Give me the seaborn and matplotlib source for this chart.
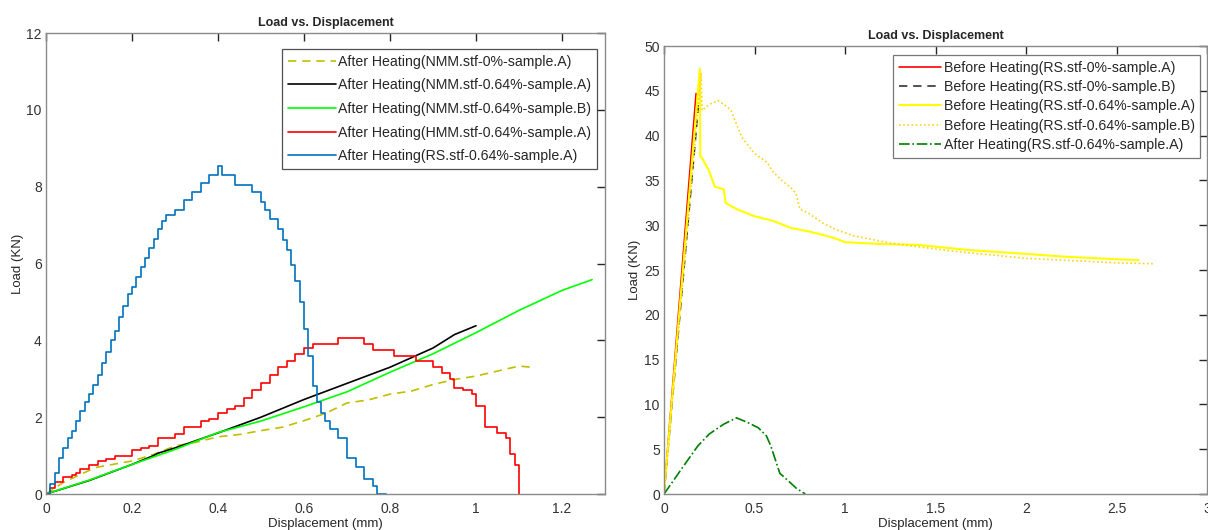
import numpy as np
import pandas as pd
import matplotlib
matplotlib.use('Agg')
import matplotlib.pyplot as plt
import seaborn as sns

# ---- left panel data (after heating) ----
nmm0_a_x = [0, 0.04, 0.115, 0.2, 0.25, 0.3, 0.35, 0.4, 0.45, 0.5, 0.55, 0.6, 0.65,
            0.7, 0.75, 0.8, 0.85, 0.9, 0.95, 1.0, 1.05, 1.1, 1.13]
nmm0_a_y = [0, 0.3, 0.69, 0.86, 1.03, 1.25, 1.35, 1.49, 1.55, 1.65, 1.74, 1.91, 2.1,
            2.37, 2.45, 2.6, 2.68, 2.85, 2.98, 3.07, 3.2, 3.33, 3.3]

nmm64_a_x = [0, 0.1, 0.2, 0.25, 0.26, 0.3, 0.4, 0.5, 0.6, 0.7, 0.8, 0.9, 0.95, 1.0]
nmm64_a_y = [0, 0.35, 0.77, 1.0, 1.06, 1.2, 1.59, 2.0, 2.46, 2.88, 3.3, 3.8, 4.15, 4.38]

nmm64_b_x = [0, 0.1, 0.2, 0.3, 0.4, 0.5, 0.6, 0.7, 0.8, 0.9, 1.0, 1.1, 1.2, 1.27]
nmm64_b_y = [0, 0.36, 0.77, 1.16, 1.6, 1.9, 2.27, 2.66, 3.17, 3.65, 4.2, 4.78, 5.3, 5.58]

hmm64_a_x = [0, 0.01, 0.02, 0.03, 0.04, 0.06, 0.07, 0.08, 0.1, 0.12, 0.14, 0.16, 0.18,
             0.2, 0.22, 0.24, 0.26, 0.28, 0.3, 0.32, 0.34, 0.36, 0.38, 0.4, 0.42,
             0.44, 0.46, 0.48, 0.5, 0.52, 0.54, 0.56, 0.58, 0.6, 0.62, 0.68, 0.74,
             0.76, 0.81, 0.86, 0.9, 0.92, 0.94, 0.95, 0.97, 0.99, 1.0, 1.02, 1.05,
             1.07, 1.08, 1.09, 1.1]
hmm64_a_y = [0, 0.15, 0.3, 0.3, 0.45, 0.5, 0.55, 0.65, 0.75, 0.85, 0.9, 1.0, 1.0,
             1.15, 1.2, 1.25, 1.45, 1.45, 1.55, 1.75, 1.75, 1.9, 1.95, 2.1, 2.2,
             2.3, 2.5, 2.7, 2.9, 3.1, 3.3, 3.45, 3.65, 3.8, 3.9, 4.05, 3.9,
             3.75, 3.6, 3.45, 3.3, 3.15, 3.0, 2.75, 2.7, 2.6, 2.3, 1.75, 1.6,
             1.45, 1.05, 0.75, 0.0]

rs64_a_x = [0, 0.01, 0.02, 0.03, 0.04, 0.05, 0.06, 0.07, 0.08, 0.09, 0.1, 0.11, 0.12,
            0.13, 0.14, 0.15, 0.16, 0.17, 0.18, 0.19, 0.2, 0.21, 0.22, 0.23, 0.24,
            0.25, 0.26, 0.27, 0.28, 0.3, 0.32, 0.34, 0.36, 0.38, 0.4, 0.41, 0.44,
            0.48, 0.5, 0.51, 0.52, 0.54, 0.55, 0.56, 0.57, 0.58, 0.59, 0.6, 0.61,
            0.62, 0.63, 0.64, 0.65, 0.66, 0.68, 0.7, 0.72, 0.74, 0.76, 0.77, 0.79]
rs64_a_y = [0, 0.25, 0.55, 0.95, 1.2, 1.45, 1.65, 1.9, 2.15, 2.4, 2.6, 2.85, 3.1,
            3.4, 3.7, 4.0, 4.25, 4.6, 4.9, 5.2, 5.4, 5.65, 5.9, 6.15, 6.4,
            6.65, 6.9, 7.1, 7.25, 7.4, 7.65, 7.85, 8.1, 8.3, 8.55, 8.3, 8.05,
            7.85, 7.6, 7.4, 7.15, 6.9, 6.6, 6.35, 5.95, 5.55, 5.0, 4.3, 3.6,
            2.8, 2.4, 2.1, 1.9, 1.7, 1.45, 0.95, 0.7, 0.4, 0.2, 0.0, 0.0]

# ---- right panel data ----
b_rs0_a_x = [0, 0.177]
b_rs0_a_y = [0, 44.7]

b_rs0_b_x = [0, 0.19]
b_rs0_b_y = [0, 43.4]

b_rs64_a_x = [0, 0.198, 0.2, 0.21, 0.25, 0.28, 0.33, 0.34, 0.4, 0.5, 0.6, 0.7, 0.8,
              0.9, 0.95, 1.0, 1.2, 1.4, 1.5, 1.7, 2.0, 2.2, 2.5, 2.62]
b_rs64_a_y = [0, 47.5, 37.7, 37.5, 36.0, 34.3, 34.0, 32.5, 31.8, 31.0, 30.5, 29.7, 29.3,
              28.8, 28.5, 28.1, 27.9, 27.8, 27.6, 27.2, 26.8, 26.5, 26.2, 26.1]

b_rs64_b_x = [0, 0.205, 0.21, 0.25, 0.3, 0.35, 0.37, 0.43, 0.5, 0.57, 0.6, 0.65, 0.7,
              0.73, 0.75, 0.8, 0.88, 0.95, 1.05, 1.15, 1.25, 1.4, 1.6, 1.8, 2.0,
              2.3, 2.5, 2.7]
b_rs64_b_y = [0, 47.0, 42.8, 43.5, 43.9, 43.2, 42.8, 39.8, 38.0, 37.0, 36.0, 35.0, 34.2,
              33.5, 31.8, 31.3, 30.2, 29.5, 28.8, 28.4, 28.0, 27.6, 27.1, 26.7, 26.3,
              26.0, 25.8, 25.7]

a_rs64_a_x = [0, 0.1, 0.186, 0.25, 0.33, 0.4, 0.46, 0.52, 0.565, 0.59, 0.62, 0.64,
              0.69, 0.73, 0.78]
a_rs64_a_y = [0, 2.9, 5.35, 6.7, 7.8, 8.5, 8.0, 7.4, 6.5, 5.35, 3.5, 2.3,
              1.4, 0.65, 0.0]

sns.set_theme(style='white')
plt.rcParams['font.family'] = ['Liberation Sans', 'DejaVu Sans']
plt.rcParams['axes.edgecolor'] = '#8a8a8a'
plt.rcParams['axes.linewidth'] = 1.0

fig = plt.figure(figsize=(12.08, 5.3), dpi=100)
ax1 = fig.add_axes([0.0381, 0.0679, 0.4627, 0.8698])
ax2 = fig.add_axes([0.5497, 0.0679, 0.4497, 0.8453])


def draw(ax, x, y, label, color, ls='-', lw=1.2, step=False):
    kw = dict(drawstyle='steps-post') if step else {}
    sns.lineplot(x=x, y=y, ax=ax, label=label, color=color, linestyle=ls,
                 linewidth=lw, sort=False, estimator=None, **kw)


draw(ax1, nmm0_a_x, nmm0_a_y, 'After Heating(NMM.stf-0%-sample.A)', '#BFBF00', ls=(0, (5, 3.5)))
draw(ax1, nmm64_a_x, nmm64_a_y, 'After Heating(NMM.stf-0.64%-sample.A)', 'black')
draw(ax1, nmm64_b_x, nmm64_b_y, 'After Heating(NMM.stf-0.64%-sample.B)', '#00FF00')
draw(ax1, hmm64_a_x, hmm64_a_y, 'After Heating(HMM.stf-0.64%-sample.A)', '#FF0000', step=True)
draw(ax1, rs64_a_x, rs64_a_y, 'After Heating(RS.stf-0.64%-sample.A)', '#0072BD', step=True)

draw(ax2, b_rs0_a_x, b_rs0_a_y, 'Before Heating(RS.stf-0%-sample.A)', '#FF0000')
draw(ax2, b_rs0_b_x, b_rs0_b_y, 'Before Heating(RS.stf-0%-sample.B)', '#333333', ls=(0, (5, 3.5)))
draw(ax2, b_rs64_a_x, b_rs64_a_y, 'Before Heating(RS.stf-0.64%-sample.A)', '#FFFF00', lw=1.5)
draw(ax2, b_rs64_b_x, b_rs64_b_y, 'Before Heating(RS.stf-0.64%-sample.B)', '#FFD21A', ls=(0, (1, 1.5)))
draw(ax2, a_rs64_a_x, a_rs64_a_y, 'After Heating(RS.stf-0.64%-sample.A)', '#007F00', ls='-.')

ax1.set_xlim(0, 1.3)
ax1.set_ylim(0, 12)
ax1.set_xticks([0, 0.2, 0.4, 0.6, 0.8, 1.0, 1.2])
ax1.set_xticklabels(['0', '0.2', '0.4', '0.6', '0.8', '1', '1.2'])
ax1.set_yticks([0, 2, 4, 6, 8, 10, 12])

ax2.set_xlim(0, 3)
ax2.set_ylim(0, 50)
ax2.set_xticks([0, 0.5, 1, 1.5, 2, 2.5, 3])
ax2.set_xticklabels(['0', '0.5', '1', '1.5', '2', '2.5', '3'])
ax2.set_yticks(range(0, 51, 5))

for ax in (ax1, ax2):
    ax.tick_params(direction='in', length=6, width=1.0, top=True, right=True,
                   labelsize=10, color='#262626', labelcolor='#333333')
    ax.tick_params(axis='x', pad=6)
    ax.tick_params(axis='y', pad=3)
    ax.set_xlabel('Displacement (mm)', fontsize=9.5, color='#262626', labelpad=1)
    ax.set_ylabel('Load (KN)', fontsize=9.5, color='#262626', labelpad=2)
    ax.set_title('Load vs. Displacement', fontsize=9, fontweight='bold', pad=5)
    for s in ax.spines.values():
        s.set_visible(True)

leg1 = ax1.legend(loc='upper right', bbox_to_anchor=(0.9857, 0.9653), borderaxespad=0,
                  fontsize=10.2, handlelength=3.4, handletextpad=0.15,
                  labelspacing=0.68, frameon=True, fancybox=False, borderpad=0.4)
leg1.get_frame().set_edgecolor('#262626')
leg1.get_frame().set_linewidth(0.9)

leg2 = ax2.legend(loc='upper right', bbox_to_anchor=(0.987, 0.98), borderaxespad=0,
                  fontsize=10.2, handlelength=3.0, handletextpad=0.15,
                  labelspacing=0.38, frameon=True, fancybox=False, borderpad=0.4)
leg2.get_frame().set_edgecolor('#555555')
leg2.get_frame().set_linewidth(0.9)

fig.savefig('out.png', dpi=100)
